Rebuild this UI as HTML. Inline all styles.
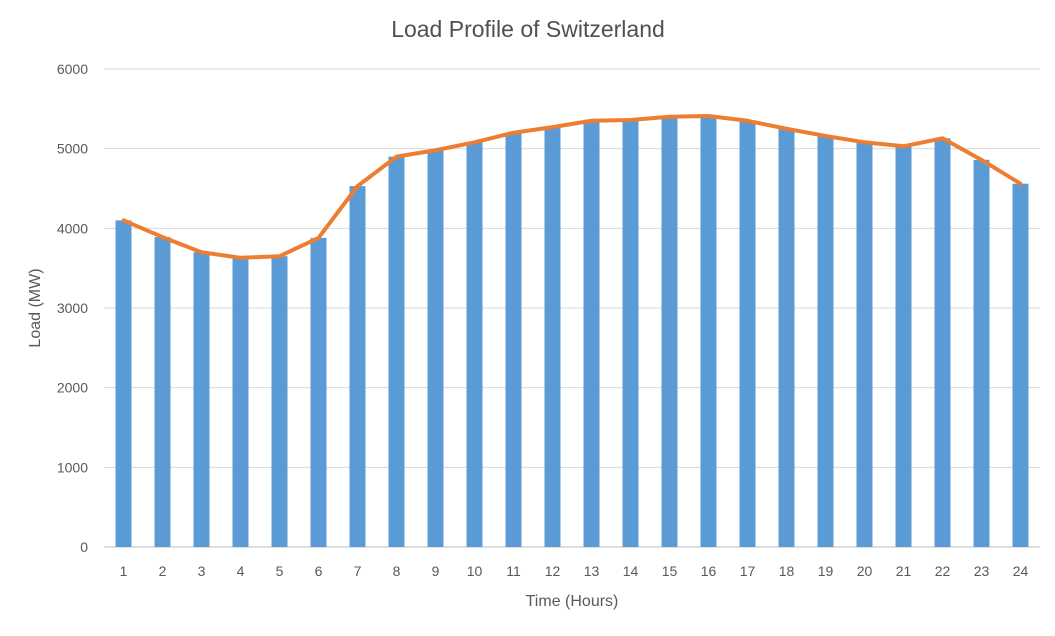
<!DOCTYPE html>
<html><head><meta charset="utf-8"><style>
body{margin:0;background:#fff;font-family:"Liberation Sans",sans-serif}
svg text{font-family:"Liberation Sans",sans-serif;fill:#595959}
</style></head><body>
<svg id="chart" width="1055" height="631">
<text x="528" y="37" text-anchor="middle" font-size="23" style="fill:#505050">Load Profile of Switzerland</text>
<g id="grid"></g><g id="bars"></g><g id="line"></g><g id="xt"></g><g id="yt"></g>
<text x="572" y="606" text-anchor="middle" font-size="16">Time (Hours)</text>
<text transform="translate(40,308) rotate(-90)" text-anchor="middle" font-size="16">Load (MW)</text>
</svg>
<script>
const hours=[1,2,3,4,5,6,7,8,9,10,11,12,13,14,15,16,17,18,19,20,21,22,23,24];
const loads=[4100,3890,3700,3630,3650,3880,4530,4900,4980,5080,5200,5270,5350,5360,5400,5410,5350,5250,5160,5080,5030,5130,4860,4560];
const yTicks=[0,1000,2000,3000,4000,5000,6000];
const NS="http://www.w3.org/2000/svg";
const x0=104,x1=1040,y0=547,y1=69,ymax=6000;
const step=(x1-x0)/hours.length;
const xs=i=>x0+step*(i+0.5);
const ys=v=>y0-(v/ymax)*(y0-y1);
function mk(t,a,p){const e=document.createElementNS(NS,t);for(const k in a)e.setAttribute(k,a[k]);p.appendChild(e);return e;}
const G=document.getElementById('grid'),YT=document.getElementById('yt');
yTicks.forEach(t=>{
 const l=mk('line',{x1:x0,x2:x1,y1:ys(t),y2:ys(t),stroke:t?'#d9d9d9':'#bfbfbf','stroke-width':1},G);
 
 
 const tx=mk('text',{x:88,y:ys(t)+5,'text-anchor':'end','font-size':14},YT);tx.textContent=t;
 
 
});
const B=document.getElementById('bars'),XT=document.getElementById('xt');
hours.forEach((h,i)=>{
 const r=mk('rect',{x:xs(i)-8,y:ys(loads[i]),width:16,height:y0-ys(loads[i]),fill:'#5B9BD5'},B);
 
 
 const tx=mk('text',{x:xs(i),y:576,'text-anchor':'middle','font-size':14},XT);tx.textContent=h;
 
 
});
const pl=mk('polyline',{points:loads.map((v,i)=>xs(i)+','+ys(v)).join(' '),fill:'none',stroke:'#ED7D31','stroke-width':4,'stroke-linejoin':'round','stroke-linecap':'round'},document.getElementById('line'));


</script>
</body></html>
